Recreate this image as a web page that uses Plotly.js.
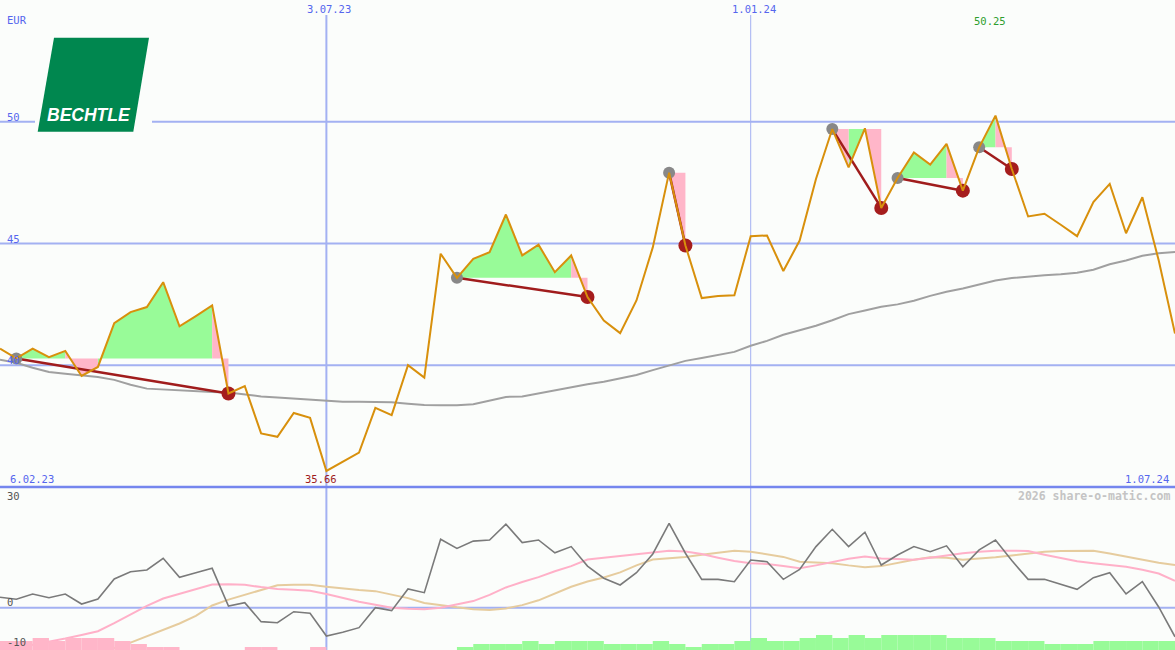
<!DOCTYPE html>
<html><head><meta charset="utf-8">
<script src="https://cdn.plot.ly/plotly-3.0.1.min.js"></script>
<style>html,body{margin:0;padding:0;background:#fbfdfb;} #chart{width:1175px;height:650px;}</style>
</head><body><div id="chart"></div>
<script>
// ---------- DATA (weekly, starting Monday 13 Feb 2023) ----------
const startDate = [2023, 1, 13];
const price = [40.68,40.28,40.68,40.33,40.59,39.56,39.93,41.73,42.18,42.39,
  43.41,41.60,42.02,42.46,38.84,39.14,37.20,37.06,38.04,37.84,
  35.66,36.04,36.41,38.25,37.95,40.00,39.49,44.58,43.59,44.37,
  44.64,46.19,44.51,44.95,43.82,44.51,42.80,41.84,41.32,42.66,
  44.84,47.91,44.92,42.76,42.84,42.87,45.30,45.33,43.87,45.12,
  47.65,49.70,48.13,49.73,46.46,47.69,48.74,48.24,49.09,47.17,
  48.95,50.25,48.06,46.11,46.22,45.77,45.30,46.70,47.45,45.42,
  46.90,44.31,41.30];
const ma200 = [40.23,40.10,39.90,39.72,39.65,39.58,39.52,39.40,39.20,39.04,
  39.00,38.97,38.92,38.90,38.88,38.80,38.72,38.68,38.63,38.58,
  38.52,38.50,38.50,38.50,38.48,38.42,38.37,38.36,38.36,38.40,
  38.55,38.70,38.72,38.85,38.98,39.10,39.22,39.32,39.45,39.60,
  39.80,40.00,40.18,40.30,40.42,40.55,40.80,41.00,41.25,41.42,
  41.62,41.85,42.10,42.25,42.40,42.50,42.65,42.85,43.02,43.15,
  43.32,43.48,43.58,43.65,43.70,43.74,43.80,43.92,44.15,44.30,
  44.50,44.60,44.65];
const momentum = [2.83,2.28,3.72,2.72,3.72,1.00,2.36,7.80,9.78,10.24,
  13.42,8.26,9.50,10.70,0.46,1.36,-3.80,-4.08,-1.09,-1.52,
  -7.70,-6.70,-5.43,0.00,-0.80,5.08,4.08,18.60,16.10,18.10,
  18.40,22.70,17.70,18.40,14.90,16.60,11.30,8.00,6.17,9.50,
  14.60,22.90,14.80,7.70,7.70,7.07,12.96,12.50,7.70,10.40,
  16.60,21.30,16.60,20.50,11.60,14.30,16.60,15.20,16.80,11.10,
  15.70,18.40,12.80,7.70,7.70,6.35,5.00,8.15,9.50,3.72,
  7.07,0.20,-7.90];
const signalFast = [-11.8,-11.0,-10.2,-9.3,-8.4,-7.4,-6.4,-4.2,-1.8,0.5,
  2.5,3.7,5.0,6.3,6.4,6.2,5.6,5.1,4.9,4.6,
  3.7,2.6,1.6,0.8,0.0,-0.3,-0.4,0.0,0.8,1.8,
  3.5,5.5,7.0,8.3,9.9,11.3,13.1,13.6,14.0,14.5,
  15.0,15.5,15.3,14.6,13.6,12.7,12.1,11.9,11.3,10.7,
  11.5,12.5,13.3,13.9,13.4,13.2,13.0,13.6,14.3,14.8,
  15.2,15.5,15.5,15.4,14.4,13.4,12.6,12.1,11.7,11.1,
  10.3,9.3,7.3];
const signalSlow = [-19.0,-18.0,-17.0,-15.8,-14.6,-13.4,-12.2,-11.0,-9.5,-7.8,
  -6.2,-4.3,-2.2,0.6,2.2,3.5,5.0,6.1,6.2,6.2,
  5.7,5.2,4.8,4.5,3.6,2.6,1.3,0.6,0.1,-0.4,
  -0.6,-0.2,0.7,2.0,3.8,5.7,7.1,8.2,9.6,11.5,
  13.1,13.4,13.8,14.4,15.0,15.5,15.2,14.6,13.8,12.5,
  12.3,12.1,11.5,11.0,11.3,12.2,13.0,13.7,13.6,13.0,
  13.3,13.7,14.2,14.8,15.2,15.4,15.5,15.5,14.7,13.9,
  12.9,12.2,11.6];
const signalBars = [-3,-3,-4,-3,-4,-4,-4,-3,-2,-1,
  -1,0,0,0,0,-1,-1,0,0,-1,
  0,0,0,0,0,0,0,0,1,2,
  2,2,3,2,3,3,3,2,2,2,
  3,2,1,2,2,3,4,3,3,4,
  5,4,5,4,5,5,5,5,4,4,
  4,3,3,3,2,2,2,3,3,3,
  3,3];
const buyIdx  = [1, 28, 41, 51, 55, 60];
const sellIdx = [14, 36, 42, 54, 59, 62];
const gridPrices = [40, 45, 50];
const dateGrid = ['2023-07-03', '2024-01-01'];
const dateGridLabels = ['3.07.23', '1.01.24'];
const firstLabel = '6.02.23', lastLabel = '1.07.24';
const lowLabel = '35.66', highLabel = '50.25';

// ---------- build ----------
const DAY = 86400000;
const t0 = Date.UTC(startDate[0], startDate[1], startDate[2]);
const dates = price.map((_, i) => new Date(t0 + i * 7 * DAY).toISOString().slice(0, 10));

function fillPolys(up) {
  const xs = [], ys = [];
  buyIdx.forEach((b, t) => {
    const s = sellIdx[t], B = price[b];
    let k = b;
    while (k < s) {
      const col = price[k + 1] >= B;
      let e = k;
      while (e < s && (price[e + 1] >= B) === col) e++;
      if (col === up) {
        xs.push(dates[k]); ys.push(B);
        for (let j = k; j <= e; j++) { xs.push(dates[j]); ys.push(price[j]); }
        xs.push(dates[e]); ys.push(B);
        xs.push(dates[k]); ys.push(B);
        xs.push(null); ys.push(null);
      }
      k = e;
    }
  });
  return {xs, ys};
}
const gF = fillPolys(true), pF = fillPolys(false);
const PINK = '#ffb6c9', GREEN = '#98fb98';

const tradeX = [], tradeY = [];
buyIdx.forEach((b, t) => { const s = sellIdx[t]; tradeX.push(dates[b], dates[s], null); tradeY.push(price[b], price[s], null); });

const barDates = dates.slice(0, signalBars.length);
const traces = [
  {x: barDates, y: signalBars.map(v => v < 0 ? -v : 0), type: 'bar', yaxis: 'y3', xaxis: 'x',
   width: 7 * DAY, offset: 0, marker: {color: PINK, line: {width: 0}}},
  {x: barDates, y: signalBars.map(v => v > 0 ? v : 0), type: 'bar', yaxis: 'y3', xaxis: 'x',
   width: 7 * DAY, offset: 0, marker: {color: GREEN, line: {width: 0}}},
  {x: dates, y: signalSlow, yaxis: 'y2', mode: 'lines', line: {color: '#e6cc9e', width: 2}},
  {x: dates, y: signalFast, yaxis: 'y2', mode: 'lines', line: {color: '#ffb0c8', width: 2}},
  {x: dates, y: momentum, yaxis: 'y2', mode: 'lines', line: {color: '#7a7a7a', width: 1.6}},
  {x: gF.xs, y: gF.ys, mode: 'lines', fill: 'toself', fillcolor: GREEN, line: {width: 0}, connectgaps: false},
  {x: pF.xs, y: pF.ys, mode: 'lines', fill: 'toself', fillcolor: PINK, line: {width: 0}, connectgaps: false},
  {x: dates, y: ma200, mode: 'lines', line: {color: '#a0a0a0', width: 2}},
  {x: tradeX, y: tradeY, mode: 'lines', line: {color: '#a01c1c', width: 2.5}, connectgaps: false},
  {x: buyIdx.map(i => dates[i]), y: buyIdx.map(i => price[i]), mode: 'markers', marker: {color: '#888888', size: 12}},
  {x: sellIdx.map(i => dates[i]), y: sellIdx.map(i => price[i]), mode: 'markers', marker: {color: '#a51d1d', size: 14}},
  {x: dates, y: price, mode: 'lines', line: {color: '#d8900c', width: 2}}
];

const W = 1175, H = 650, split = 163 / 650;
const px = v => v / W, py = v => 1 - v / H;
const BLUE = '#5566ee', GRID = '#a3b1f2';
const mono = (c, s, w) => ({family: 'DejaVu Sans Mono, monospace', size: s || 10.5, color: c, weight: w || 'normal'});

const shapes = [];
gridPrices.forEach(v => shapes.push({type: 'line', xref: 'paper', yref: 'y', x0: 0, x1: 1, y0: v, y1: v, line: {color: GRID, width: 2}, layer: 'below'}));
shapes.push({type: 'line', xref: 'paper', yref: 'y2', x0: 0, x1: 1, y0: 0, y1: 0, line: {color: GRID, width: 2}, layer: 'below'});
dateGrid.forEach((d, i) => shapes.push({type: 'line', xref: 'x', yref: 'paper', x0: d, x1: d, y0: 0, y1: py(15), line: {color: GRID, width: i === 0 ? 2 : 1}, layer: 'below'}));
shapes.push({type: 'line', xref: 'paper', yref: 'paper', x0: 0, x1: 1, y0: split, y1: split, line: {color: '#7586ee', width: 2.5}, layer: 'above'});
// logo
shapes.push({type: 'rect', xref: 'paper', yref: 'paper', x0: px(35), x1: px(152), y0: py(136), y1: py(32), fillcolor: '#fbfdfb', line: {width: 0}, layer: 'below'});
shapes.push({type: 'path', xref: 'paper', yref: 'paper', layer: 'below', fillcolor: '#00874f', line: {width: 0},
  path: `M ${px(54)} ${py(37.7)} L ${px(149)} ${py(37.7)} L ${px(133.3)} ${py(131.7)} L ${px(37.7)} ${py(131.7)} Z`});

const ann = [];
const A = (o) => ann.push(Object.assign({showarrow: false, xref: 'paper', yref: 'paper'}, o));
A({x: px(5), y: py(20), text: 'EUR', xanchor: 'left', yanchor: 'middle', font: mono(BLUE)});
gridPrices.forEach(v => A({x: px(5), yref: 'y', y: v, yshift: 5, text: String(v), xanchor: 'left', yanchor: 'middle', font: mono(BLUE)}));
dateGrid.forEach((d, i) => A({xref: 'x', x: d, xshift: 3, y: py(9), text: dateGridLabels[i], xanchor: 'center', yanchor: 'middle', font: mono(BLUE)}));
A({x: px(8), y: py(479), text: firstLabel, xanchor: 'left', yanchor: 'middle', font: mono(BLUE)});
A({x: px(1171), y: py(479), text: lastLabel, xanchor: 'right', yanchor: 'middle', font: mono(BLUE)});
A({xref: 'x', x: dates[20], xshift: -5, y: py(479), text: lowLabel, xanchor: 'center', yanchor: 'middle', font: mono('#a01c1c')});
A({xref: 'x', x: dates[61], xshift: -5, y: py(21), text: highLabel, xanchor: 'center', yanchor: 'middle', font: mono('#2e9e2e')});
A({x: px(1172), y: py(496), text: '2026 share-o-matic.com', xanchor: 'right', yanchor: 'middle', font: mono('#c4c4c4', 11.5, 'bold')});
A({x: px(5), y: py(496), text: '30', xanchor: 'left', yanchor: 'middle', font: mono('#555555')});
A({x: px(5), y: py(602), text: '0', xanchor: 'left', yanchor: 'middle', font: mono('#555555')});
A({x: px(5), y: py(642), text: '-10', xanchor: 'left', yanchor: 'middle', font: mono('#555555')});
A({x: px(88.5), y: py(115), text: 'BECHTLE', xanchor: 'center', yanchor: 'middle',
   font: {family: 'Liberation Sans, Arial, sans-serif', size: 17.5, color: '#ffffff', weight: 'bold', style: 'italic'}});

const layout = {
  width: W, height: H, margin: {l: 0, r: 0, t: 0, b: 0, pad: 0},
  paper_bgcolor: '#fbfdfb', plot_bgcolor: '#fbfdfb', showlegend: false, barmode: 'overlay',
  xaxis: {type: 'date', range: [dates[0], dates[dates.length - 1]], showgrid: false, showticklabels: false, zeroline: false, showline: false, ticks: ''},
  yaxis: {domain: [split, 1], range: [35, 55], showgrid: false, showticklabels: false, zeroline: false, showline: false},
  yaxis2: {domain: [0, split], range: [-11.5, 32.8], showgrid: false, showticklabels: false, zeroline: false, showline: false},
  yaxis3: {overlaying: 'y2', range: [0, 163 / 3], visible: false, showgrid: false, zeroline: false},
  shapes: shapes, annotations: ann
};
Plotly.newPlot('chart', traces, layout, {staticPlot: true, displayModeBar: false});
</script></body></html>
